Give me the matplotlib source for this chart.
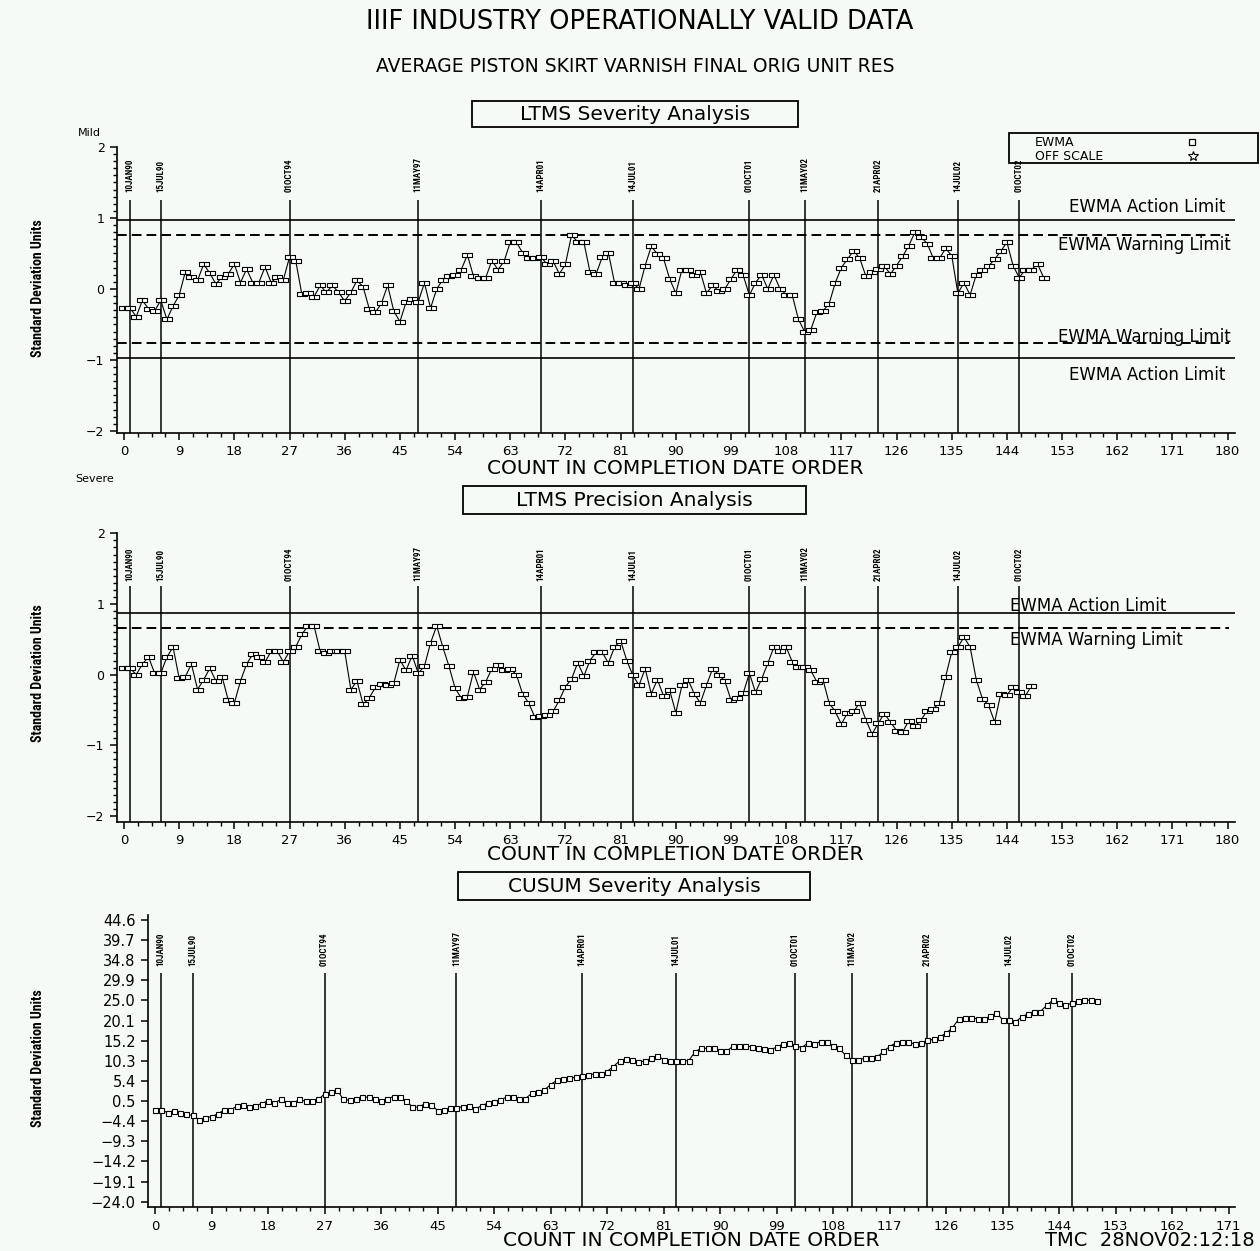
import numpy as np
import matplotlib
matplotlib.use('Agg')
import matplotlib.pyplot as plt
from matplotlib.path import Path
from matplotlib.patches import Rectangle
from matplotlib.lines import Line2D
from matplotlib.ticker import MultipleLocator
from matplotlib import font_manager as fm

# ---------------- data ----------------
severity_ewma = [
    -0.27, -0.27, -0.39, -0.16, -0.28, -0.31, -0.16, -0.43, -0.24, -0.09,
    0.24, 0.17, 0.12, 0.35, 0.22, 0.07, 0.17, 0.21, 0.35, 0.09,
    0.28, 0.09, 0.09, 0.31, 0.09, 0.17, 0.13, 0.45, 0.40, -0.07,
    -0.06, -0.11, 0.05, -0.05, 0.05, -0.05, -0.17, -0.05, 0.12, 0.03,
    -0.28, -0.33, -0.20, 0.05, -0.31, -0.46, -0.19, -0.14,
    -0.18, 0.085, -0.27, 0.0, 0.13, 0.18, 0.20, 0.27, 0.48, 0.18,
    0.16, 0.16, 0.40, 0.27, 0.39, 0.66, 0.66, 0.51, 0.43, 0.43,
    0.45, 0.35, 0.39, 0.21, 0.35, 0.76, 0.66, 0.66, 0.24, 0.21,
    0.45, 0.51, 0.09, 0.09, 0.06, 0.085, 0.0, 0.33, 0.60, 0.49,
    0.43, 0.14, -0.06, 0.27, 0.27, 0.20, 0.24, -0.06, 0.05, -0.03,
    0.0, 0.14, 0.27, 0.19, -0.09, 0.09, 0.20, 0.0, 0.20, 0.0,
    -0.08, -0.09, -0.43, -0.60, -0.58, -0.33,
    -0.31, -0.21, 0.085, 0.30, 0.42, 0.54, 0.43, 0.18, 0.24, 0.28,
    0.32, 0.21, 0.33, 0.46, 0.61, 0.80, 0.73, 0.64, 0.43, 0.43,
    0.57, 0.47, -0.06, 0.085, -0.085, 0.20, 0.27, 0.32, 0.42, 0.53,
    0.66, 0.33, 0.16, 0.27, 0.27, 0.35, 0.16,
]

precision_ewma = [
    0.09, 0.09, 0.00, 0.15, 0.25, 0.02, 0.02, 0.25, 0.39, -0.05,
    -0.03, 0.15, -0.21, -0.07, 0.09, -0.09, -0.03, -0.36, -0.40, -0.09,
    0.15, 0.29, 0.25, 0.18, 0.33, 0.33, 0.18, 0.33, 0.39, 0.57,
    0.69, 0.69, 0.33, 0.30, 0.33, 0.33, 0.33, -0.21, -0.09, -0.42,
    -0.33, -0.18, -0.13, -0.15, -0.12,
    0.21, 0.06, 0.27,
    0.02, 0.12, 0.45, 0.69, 0.39, 0.12, -0.19, -0.33, -0.31, 0.04,
    -0.21, -0.10, 0.085, 0.14, 0.07, 0.085, 0.0, -0.27, -0.40, -0.60,
    -0.59, -0.57, -0.52, -0.36, -0.17, -0.06, 0.17, -0.02, 0.20, 0.32,
    0.32, 0.16, 0.39, 0.48, 0.20, -0.01, -0.15, 0.085, -0.27, -0.07,
    -0.30, -0.22, -0.54, -0.15, -0.07, -0.27, -0.40, -0.15, 0.085, 0.0,
    -0.09, -0.36, -0.33, -0.26, 0.02, -0.25, -0.06, 0.16, 0.39, 0.33,
    0.39, 0.18, 0.11, 0.11,
    0.06, -0.10, -0.07, -0.40, -0.52, -0.70, -0.54, -0.52, -0.40,
    -0.64, -0.84, -0.69, -0.55, -0.67, -0.79, -0.81, -0.65, -0.73, -0.64,
    -0.51, -0.48, -0.40, -0.03, 0.32, 0.39, 0.53, 0.39, -0.07, -0.34,
    -0.43, -0.67, -0.27, -0.29, -0.17, -0.25, -0.30, -0.16,
]

cusum_severity = [
    -1.67, -1.67, -2.3, -1.8, -2.3, -2.7, -3.0, -4.0, -3.6, -3.3,
    -2.6, -1.67, -1.67, -0.8, -0.45, -1.0, -0.6, -0.1, 0.6, -0.05,
    0.9, 0.0, -0.05, 0.9, 0.4, 0.6, 0.9, 2.2, 2.8, 3.2,
    0.9, 0.7, 1.0, 1.6, 1.4, 1.0, 0.6, 1.1, 1.6, 1.5,
    0.5, -0.9,
    -1.0, -0.1, -0.4, -1.8, -1.67, -1.3, -1.2, -0.86, -0.6, -1.5,
    -0.6, 0.0, 0.2, 0.7, 1.5, 1.6, 1.0, 1.1, 2.4, 2.8,
    3.2, 4.5, 5.6, 5.8, 6.0, 6.3, 6.5, 6.9, 7.1, 7.1,
    7.7, 8.9, 10.3, 10.7, 10.5, 9.9, 10.3, 10.9, 11.5, 10.6,
    10.3, 10.3, 10.3, 10.3, 12.5, 13.35, 13.35, 13.3, 12.8, 12.6,
    13.8, 13.85, 14.0, 13.7, 13.3, 13.2, 13.0, 13.6, 14.4, 14.6,
    14.0, 13.5, 14.7, 14.4,
    14.97, 14.9, 14.0, 13.3, 11.6, 10.6, 10.6, 10.9, 10.9, 11.2,
    12.6, 13.75, 14.7, 14.97, 14.8, 14.4, 14.6, 15.3, 15.5, 16.2,
    17.0, 18.4, 20.4, 20.8, 20.8, 20.5, 20.5, 21.1, 22.0, 20.3,
    20.25, 19.7, 21.0, 21.7, 22.3, 22.3, 23.8, 25.1, 24.3, 23.9,
    24.3, 24.8, 25.0, 25.1, 24.8,
]

event_counts = [1, 6, 27, 48, 68, 83, 102, 111, 123, 136, 146]
event_labels = ["10JAN90", "15JUL90", "01OCT94", "11MAY97", "14APR01", "14JUL01",
                "01OCT01", "11MAY02", "21APR02", "14JUL02", "01OCT02"]

sev_action, sev_warning = 0.97, 0.76
prec_action, prec_warning = 0.875, 0.66

ewma_yticks = [-2, -1, 0, 1, 2]
cusum_yticks = [-24.0, -19.1, -14.2, -9.3, -4.4, 0.5, 5.4, 10.3, 15.2, 20.1,
                25.0, 29.9, 34.8, 39.7, 44.6]

# ---------------- figure ----------------
W, H = 1260, 1251
BG = '#f6faf6'
fig = plt.figure(figsize=(W / 100, H / 100), dpi=100)
fig.patch.set_facecolor(BG)

names = {f.name for f in fm.fontManager.ttflist}
NARROW = next((n for n in ['Liberation Sans Narrow', 'Roboto Condensed', 'Open Sans Condensed']
               if n in names), 'DejaVu Sans')
ylab_size = 10 if NARROW != 'DejaVu Sans' else 8


def fx(px):
    return px / W


def fy(py):
    return 1 - py / H


def add_axes(left, right, top, bottom):
    ax = fig.add_axes([fx(left), fy(bottom), (right - left) / W, (bottom - top) / H])
    ax.set_facecolor('none')
    for s in ['top', 'right']:
        ax.spines[s].set_visible(False)
    for s in ['left', 'bottom']:
        ax.spines[s].set_linewidth(1.2)
    ax.tick_params(which='major', length=5, width=1.1, direction='out', labelsize=9.5, pad=4)
    ax.tick_params(which='minor', length=3, width=1.0, direction='out')
    return ax


# double-square marker
dbl = Path([(-1, -0.55), (1, -0.55), (1, 0.55), (-1, 0.55), (-1, -0.55), (0, -0.55), (0, 0.55)],
           [Path.MOVETO, Path.LINETO, Path.LINETO, Path.LINETO, Path.CLOSEPOLY, Path.MOVETO, Path.LINETO])

dash = (0, (5, 2.6))


def ewma_panel(ax, data, ylo, label_base):
    x = np.arange(len(data))
    ax.set_xlim(-1.14, 181.2)
    ax.set_ylim(ylo, 2.0)
    ax.set_xticks(np.arange(0, 181, 9))
    ax.xaxis.set_minor_locator(MultipleLocator(2.25))
    ax.set_yticks(ewma_yticks)
    ax.yaxis.set_minor_locator(MultipleLocator(0.1))
    ax.tick_params(axis='y', labelsize=9)
    ax.vlines(event_counts, ylo, 1.25, color='k', lw=1.1)
    for xv, lab in zip(event_counts, event_labels):
        ax.text(xv, label_base, lab, rotation=90, ha='center', va='bottom', fontsize=6.5,
                fontweight='bold', family=NARROW, clip_on=False)
    ax.plot(x, data, color='k', lw=0.8, marker=dbl, ms=6.5, mfc='white', mec='k', mew=0.8,
            zorder=3)


# ---- top: severity ----
ax1 = add_axes(117, 1235, 147, 433)
ewma_panel(ax1, severity_ewma, -2.03, 1.37)
for v in [sev_action, -sev_action]:
    ax1.axhline(v, color='k', lw=1.2)
for v in [sev_warning, -sev_warning]:
    ax1.axhline(v, color='k', lw=1.4, ls=dash, xmax=0.995)

# ---- middle: precision ----
ax2 = add_axes(117, 1235, 533.3, 821.7)
ewma_panel(ax2, precision_ewma, -2.08, 1.33)
ax2.axhline(prec_action, color='k', lw=1.2)
ax2.axhline(prec_warning, color='k', lw=1.4, ls=dash, xmax=0.995)

# ---- bottom: cusum ----
ax3 = add_axes(148.3, 1235, 915, 1207.3)
xc = np.arange(len(cusum_severity))
ax3.set_xlim(-1.07, 172.0)
ax3.set_ylim(-25.36, 45.8)
ax3.set_xticks(np.arange(0, 172, 9))
ax3.xaxis.set_minor_locator(MultipleLocator(2.25))
ax3.set_yticks(cusum_yticks)
ax3.set_yticklabels([f"{v:.1f}".replace('-', '\u2212') for v in cusum_yticks], fontsize=10.5)
ax3.tick_params(axis='y', length=5)
ax3.vlines(event_counts, -25.36, 31.8, color='k', lw=1.1)
for xv, lab in zip(event_counts, event_labels):
    ax3.text(xv, 33.4, lab, rotation=90, ha='center', va='bottom', fontsize=6.5,
             fontweight='bold', family=NARROW, clip_on=False)
ax3.plot(xc, cusum_severity, color='k', lw=0.8, marker='s', ms=3.6, mfc='white', mec='k',
         mew=0.8, zorder=3)

# ---------------- texts ----------------
fig.text(fx(640), fy(22), 'IIIF INDUSTRY OPERATIONALLY VALID DATA', ha='center', va='center',
         fontsize=18.5)
fig.text(fx(635), fy(67), 'AVERAGE PISTON SKIRT VARNISH FINAL ORIG UNIT RES', ha='center',
         va='center', fontsize=13.5)


def title_box(x0, x1, y0, y1, text):
    fig.add_artist(Rectangle((fx(x0), fy(y1)), (x1 - x0) / W, (y1 - y0) / H, fill=False,
                             lw=1.3, ec='k', transform=fig.transFigure))
    fig.text(fx((x0 + x1) / 2), fy((y0 + y1) / 2), text, ha='center', va='center', fontsize=14.5)


title_box(472, 798, 101, 127, 'LTMS Severity Analysis')
title_box(463, 806, 486, 514, 'LTMS Precision Analysis')
title_box(458, 810, 872, 900, 'CUSUM Severity Analysis')

for yc in [288, 673, 1058]:
    fig.text(fx(38), fy(yc), 'Standard Deviation Units', rotation=90, ha='center', va='center',
             fontsize=ylab_size, fontweight='bold', family=NARROW)

fig.text(fx(78), fy(133), 'Mild', ha='left', va='center', fontsize=8)
fig.text(fx(75), fy(479), 'Severe', ha='left', va='center', fontsize=8)

xlab = 'COUNT IN COMPLETION DATE ORDER'
fig.text(fx(675), fy(469), xlab, ha='center', va='center', fontsize=14.5)
fig.text(fx(675), fy(855), xlab, ha='center', va='center', fontsize=14.5)
fig.text(fx(691), fy(1240), xlab, ha='center', va='center', fontsize=14.5)
fig.text(fx(1255), fy(1240), 'TMC  28NOV02:12:18', ha='right', va='center', fontsize=14)

# limit labels
lim_fs = 12
fig.text(fx(1147), fy(207), 'EWMA Action Limit', ha='center', va='center', fontsize=lim_fs)
fig.text(fx(1144), fy(245), 'EWMA Warning Limit', ha='center', va='center', fontsize=lim_fs)
fig.text(fx(1144), fy(337), 'EWMA Warning Limit', ha='center', va='center', fontsize=lim_fs)
fig.text(fx(1147), fy(375), 'EWMA Action Limit', ha='center', va='center', fontsize=lim_fs)
fig.text(fx(1010), fy(606), 'EWMA Action Limit', ha='left', va='center', fontsize=lim_fs)
fig.text(fx(1010), fy(640), 'EWMA Warning Limit', ha='left', va='center', fontsize=lim_fs)

# legend box
fig.add_artist(Rectangle((fx(1009), fy(163)), 249 / W, 30 / H, fill=False, lw=1.3, ec='k',
                         transform=fig.transFigure))
fig.text(fx(1035), fy(142), 'EWMA', ha='left', va='center', fontsize=9)
fig.text(fx(1035), fy(156), 'OFF SCALE', ha='left', va='center', fontsize=9)
fig.add_artist(Line2D([fx(1192)], [fy(142)], marker='s', ms=4, mfc='white', mec='k', mew=0.9,
                      ls='none', transform=fig.transFigure))
fig.add_artist(Line2D([fx(1193)], [fy(156)], marker='*', ms=7, mfc='white', mec='k', mew=0.8,
                      ls='none', transform=fig.transFigure))

fig.savefig('out.png', dpi=100, facecolor=BG)
